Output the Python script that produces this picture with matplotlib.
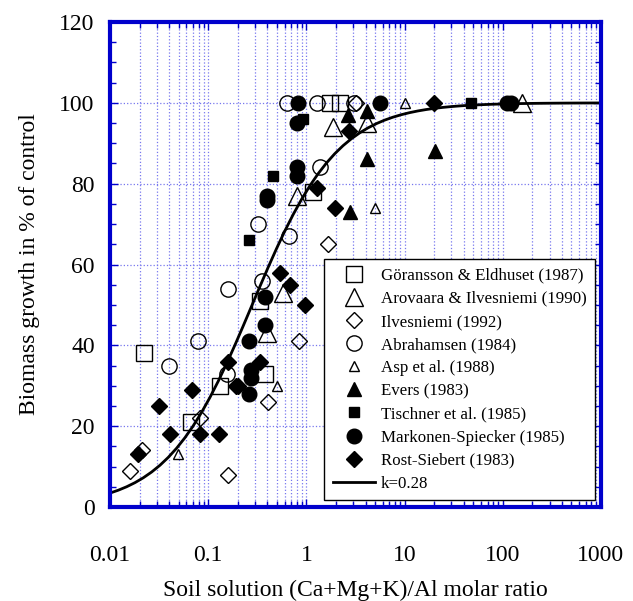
import numpy as np
import matplotlib.pyplot as plt
from matplotlib.ticker import LogLocator, MultipleLocator, NullFormatter

plt.rcParams['font.family'] = ['Liberation Serif', 'DejaVu Serif']

# (Ca+Mg+K)/Al ratio and biomass growth (% of control) per study
goransson_x = [0.022, 0.067, 0.132, 0.34, 0.38, 1.17, 1.74, 2.2]
goransson_y = [38, 21, 30, 51, 33, 78, 100, 100]

arovaara_x = [0.40, 0.58, 0.80, 1.86, 4.1, 157]
arovaara_y = [43, 53, 77, 94, 95, 100]

ilvesniemi_x = [0.016, 0.021, 0.082, 0.159, 0.41, 0.84, 1.66, 3.2]
ilvesniemi_y = [9, 14, 22, 8, 26, 41, 65, 100]

abrahamsen_x = [0.040, 0.079, 0.155, 0.159, 0.32, 0.35, 0.67, 1.38, 0.63, 1.28, 3.05]
abrahamsen_y = [35, 41, 33, 54, 70, 56, 67, 84, 100, 100, 100]

asp_x = [0.049, 0.50, 5.0, 10.1]
asp_y = [13, 30, 74, 100]

evers_x = [2.66, 4.1, 4.1, 2.78, 20.4]
evers_y = [97, 98, 86, 73, 88]

tischner_x = [0.26, 0.457, 0.92, 47]
tischner_y = [66, 82, 96, 100]

markonen_x = [0.26, 0.27, 0.27, 0.26, 0.38, 0.38, 0.40, 0.40, 0.80, 0.80, 0.80, 0.82, 5.6, 110, 120]
markonen_y = [41, 34, 32, 28, 52, 45, 77, 76, 84, 82, 95, 100, 100, 100, 100]

rost_x = [0.0193, 0.0316, 0.041, 0.068, 0.082, 0.13, 0.16, 0.19, 0.20, 0.34,
          0.54, 0.68, 0.97, 1.28, 1.95, 2.7, 20]
rost_y = [13, 25, 18, 29, 18, 18, 36, 30, 30, 36,
          58, 55, 50, 79, 74, 93, 100]

k = 0.28

fig = plt.figure(figsize=(6.33, 6.01), dpi=100)
ax = fig.add_axes([0.1738, 0.1564, 0.7756, 0.807])

blue = '#0000cc'
ax.set_xscale('log')
ax.set_xlim(0.01, 1000)
ax.set_ylim(0, 120)

ax.xaxis.set_minor_locator(LogLocator(base=10, subs=np.arange(2, 10), numticks=20))
ax.xaxis.set_minor_formatter(NullFormatter())
ax.set_xticks([0.01, 0.1, 1, 10, 100, 1000])
ax.set_xticklabels(['0.01', '0.1', '1', '10', '100', '1000'])
ax.yaxis.set_major_locator(MultipleLocator(20))
ax.yaxis.set_minor_locator(MultipleLocator(5))

ax.grid(True, which='both', axis='x', color='#7777ee', linestyle=':', linewidth=0.9)
ax.grid(True, which='major', axis='y', color='#7777ee', linestyle=':', linewidth=0.9)

for sp in ax.spines.values():
    sp.set_color(blue)
    sp.set_linewidth(3)

ax.tick_params(which='both', direction='in', top=True, right=True, color=blue)
ax.tick_params(which='major', length=6, width=1, labelsize=17)
ax.tick_params(which='minor', length=4, width=1)
ax.tick_params(axis='x', which='major', pad=27)
ax.tick_params(axis='y', which='major', pad=11)

# model curve y = 100 x / (k + x)
xc = np.logspace(-2, 3, 60)
yc = 100 * xc / (k + xc)
ax.plot(xc, yc, color='black', lw=2, zorder=2)

op = dict(ls='none', mfc='none', mec='black', mew=1.0, zorder=3)
fl = dict(ls='none', color='black', zorder=4)

h1, = ax.plot(goransson_x, goransson_y, marker='s', ms=11, **op)
h2, = ax.plot(arovaara_x, arovaara_y, marker='^', ms=13, **op)
h3, = ax.plot(ilvesniemi_x, ilvesniemi_y, marker='D', ms=8, **op)
h4, = ax.plot(abrahamsen_x, abrahamsen_y, marker='o', ms=11, **op)
h5, = ax.plot(asp_x, asp_y, marker='^', ms=6.5, **op)
h6, = ax.plot(evers_x, evers_y, marker='^', ms=10.5, **fl)
h7, = ax.plot(tischner_x, tischner_y, marker='s', ms=7.5, **fl)
h8, = ax.plot(markonen_x, markonen_y, marker='o', ms=10.5, **fl)
h9, = ax.plot(rost_x, rost_y, marker='D', ms=8.5, **fl)
h10, = ax.plot([], [], color='black', lw=2)

leg = ax.legend([h1, h2, h3, h4, h5, h6, h7, h8, h9, h10],
                ['Göransson & Eldhuset (1987)', 'Arovaara & Ilvesniemi (1990)',
                 'Ilvesniemi (1992)', 'Abrahamsen (1984)', 'Asp et al. (1988)',
                 'Evers (1983)', 'Tischner et al. (1985)',
                 'Markonen-Spiecker (1985)', 'Rost-Siebert (1983)', 'k=0.28'],
                loc='lower right', bbox_to_anchor=(0.988, 0.014), fontsize=12.2,
                frameon=True, fancybox=False, edgecolor='black', framealpha=1,
                handlelength=2.5, handletextpad=0.35, labelspacing=0.42,
                borderpad=0.5, borderaxespad=0)
leg.get_frame().set_linewidth(1.0)

ax.set_xlabel('Soil solution (Ca+Mg+K)/Al molar ratio', fontsize=17, labelpad=10)
ax.set_ylabel('Biomass growth in % of control', fontsize=17, labelpad=14)

fig.savefig('out.png', dpi=100)
